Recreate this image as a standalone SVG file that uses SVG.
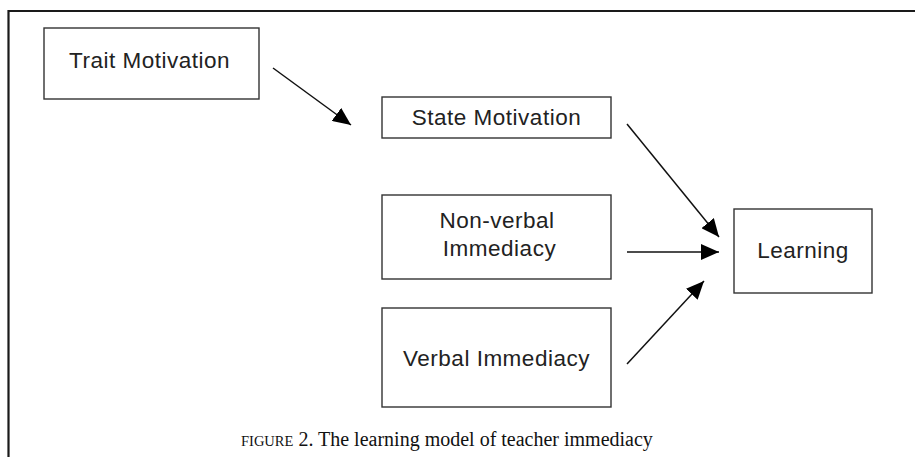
<svg xmlns="http://www.w3.org/2000/svg" width="915" height="457" viewBox="0 0 915 457">
<defs>
<style>
.box{fill:#fff;stroke:#333;stroke-width:1.4}
.lbl{font-family:"Liberation Sans",Arial,sans-serif;font-size:22.5px;letter-spacing:0.5px;fill:#222;text-anchor:middle}
.edge{stroke:#111;stroke-width:1.5;fill:none;marker-end:url(#ah)}
.frame{stroke:#1a1a1a;stroke-width:2.2;fill:none}
.cap{font-family:"Liberation Serif","Times New Roman",serif;font-size:20px;fill:#111}
</style>
<marker id="ah" viewBox="0 0 18 16" refX="18" refY="8" markerWidth="18" markerHeight="16" markerUnits="userSpaceOnUse" orient="auto">
<path d="M0,0 L18,8 L0,16 Z" fill="#000"/>
</marker>
</defs>
<rect width="915" height="457" fill="#fff"/>
<path class="frame" d="M8.5,457 V11 H915"/>
<g id="trait">
<rect class="box" x="44" y="28" width="215" height="71"/>
<text class="lbl" x="149.5" y="68">Trait Motivation</text>
</g>
<g id="state">
<rect class="box" x="382" y="97" width="229" height="41"/>
<text class="lbl" x="496.5" y="125">State Motivation</text>
</g>
<g id="nonverbal">
<rect class="box" x="382" y="195" width="229" height="84"/>
<text class="lbl" x="497" y="228">Non-verbal</text>
<text class="lbl" x="499.5" y="256">Immediacy</text>
</g>
<g id="verbal">
<rect class="box" x="382" y="308" width="229" height="99"/>
<text class="lbl" x="496.5" y="366">Verbal Immediacy</text>
</g>
<g id="learning">
<rect class="box" x="734" y="209" width="138" height="84"/>
<text class="lbl" x="803" y="258">Learning</text>
</g>
<g id="connectors">
<line class="edge" x1="273" y1="68" x2="351" y2="125"/>
<line class="edge" x1="627" y1="124" x2="719" y2="237"/>
<line class="edge" x1="627" y1="252" x2="719" y2="252"/>
<line class="edge" x1="627" y1="364" x2="704" y2="281"/>
</g>
<text class="cap" x="241" y="446"><tspan font-size="14.5px">FIGURE</tspan> 2. The learning model of teacher immediacy</text>
</svg>
